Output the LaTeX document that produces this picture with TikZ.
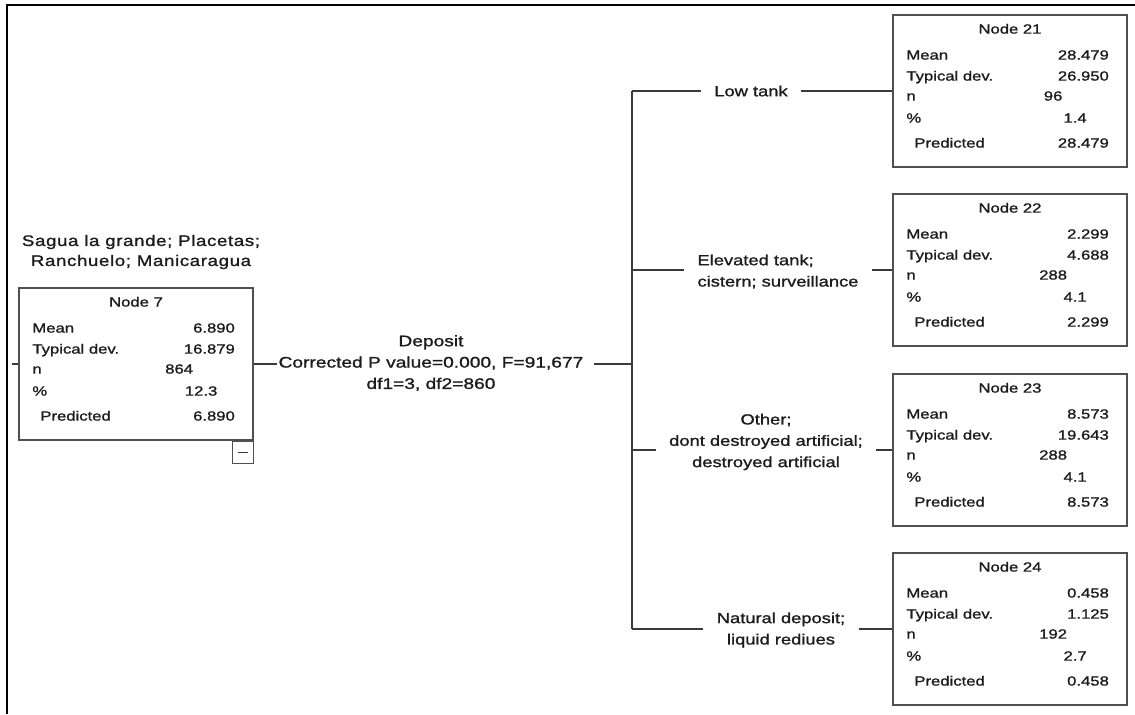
\documentclass[tikz,border=0pt]{standalone}
\usepackage{fontspec}
\usetikzlibrary{calc}

\newfontfamily\spssfont[FakeStretch=1.25, FakeBold=1.2]{Liberation Sans}
\newfontfamily\spsswide[FakeStretch=1.22, LetterSpace=4, FakeBold=1.2]{Liberation Sans}
\definecolor{inkgray}{HTML}{1C1C1C}
\definecolor{framegray}{HTML}{505050}
\definecolor{wiregray}{HTML}{3A3A3A}

\tikzset{
  treebox/.style={draw=framegray, line width=1.3pt, minimum width=175.5pt, minimum height=114pt, inner sep=0pt},
  statcell/.style={font=\spssfont\fontsize{10}{12}\selectfont, text=inkgray, inner sep=0pt, text height=7.2pt, text depth=2pt},
  cutlabel/.style={font=\spssfont\fontsize{11}{16}\selectfont, text=inkgray, align=center, inner ysep=1pt, inner xsep=10pt},
  wire/.style={draw=wiregray, line width=1.1pt},
}

% one tree node: name, centre, title, mean, sd, n, percent, predicted
\newcommand{\statbox}[8]{%
  \node[treebox] (#1) at (#2) {};
  \node[statcell] (#1-title) at ($(#1.north)+(0,16)$) {#3};
  \node[statcell, anchor=west] (#1-meanl) at ($(#1.north west)+(14,42)$) {Mean};
  \node[statcell, anchor=east] (#1-mean) at ($(#1.north west)+(217,42)$) {#4};
  \node[statcell, anchor=west] (#1-sdl) at ($(#1.north west)+(14,63)$) {Typical dev.};
  \node[statcell, anchor=east] (#1-sd) at ($(#1.north west)+(217,63)$) {#5};
  \node[statcell, anchor=west] (#1-nl) at ($(#1.north west)+(14,83)$) {n};
  \node[statcell] (#1-n) at ($(#1.north west)+(161,83)$) {#6};
  \node[statcell, anchor=west] (#1-pctl) at ($(#1.north west)+(14,105)$) {\%};
  \node[statcell] (#1-pct) at ($(#1.north west)+(183,105)$) {#7};
  \node[statcell, anchor=west] (#1-predl) at ($(#1.north west)+(22,130)$) {Predicted};
  \node[statcell, anchor=east] (#1-pred) at ($(#1.north west)+(217,130)$) {#8};
}

\begin{document}
\begin{tikzpicture}[x=0.75pt, y=-0.75pt]
  \useasboundingbox[fill=white] (0,0) rectangle (1135,714);
  \draw[line width=1.3pt, black] (7,714) -- (7,5) -- (1135,5);

  % parent node
  \node[font=\spsswide\fontsize{11.5}{15}\selectfont, text=inkgray, align=center, inner sep=0pt] (n7-lab) at (141,252) {Sagua la grande; Placetas;\\Ranchuelo; Manicaragua};
  \statbox{n7}{136,364}{Node 7}{6.890}{16.879}{864}{12.3}{6.890}
  \node[draw=framegray, line width=1pt, minimum width=15.75pt, minimum height=16.5pt, inner sep=0pt, anchor=north east] (n7-fold) at (n7.south east) {};
  \draw[wiregray, line width=1.2pt] ($(n7-fold.center)+(-5,0)$) -- ($(n7-fold.center)+(5,0)$);
  \coordinate (stub) at (12,364);
  \draw[wire] (stub) -- (n7.west);

  % split
  \node[cutlabel, font=\spssfont\fontsize{11.5}{16}\selectfont, anchor=west, inner xsep=1pt] (split) at (277,363) {Deposit\\Corrected P value=0.000, F=91,677\\df1=3, df2=860};
  \coordinate (bus) at (632,364);
  \draw[wire] (n7.east) -- (n7.east -| split.west);
  \draw[wire, shorten <=7pt] (split.east |- bus) -- (bus);

  % children
  \statbox{n21}{1010,91}{Node 21}{28.479}{26.950}{96}{1.4}{28.479}
  \statbox{n22}{1010,270}{Node 22}{2.299}{4.688}{288}{4.1}{2.299}
  \statbox{n23}{1010,450}{Node 23}{8.573}{19.643}{288}{4.1}{8.573}
  \statbox{n24}{1010,629}{Node 24}{0.458}{1.125}{192}{2.7}{0.458}

  \coordinate (b21) at (632,91);
  \coordinate (b22) at (632,270);
  \coordinate (b23) at (632,450);
  \coordinate (b24) at (632,629);
  \draw[wire] (b21) -- (b24);

  \node[cutlabel] (c21) at (751,91) {Low tank};
  \node[cutlabel, align=left] (c22) at (778,271.5) {Elevated tank;\\cistern; surveillance};
  \node[cutlabel] (c23) at (766,442) {Other;\\dont destroyed artificial;\\destroyed artificial};
  \node[cutlabel] (c24) at (781,630) {Natural deposit;\\liquid rediues};

  \foreach \k in {21,22,23,24} {
    \draw[wire] (b\k) -- (b\k -| c\k.west);
    \draw[wire] (b\k -| c\k.east) -- (n\k.west);
  }
\end{tikzpicture}
\end{document}
